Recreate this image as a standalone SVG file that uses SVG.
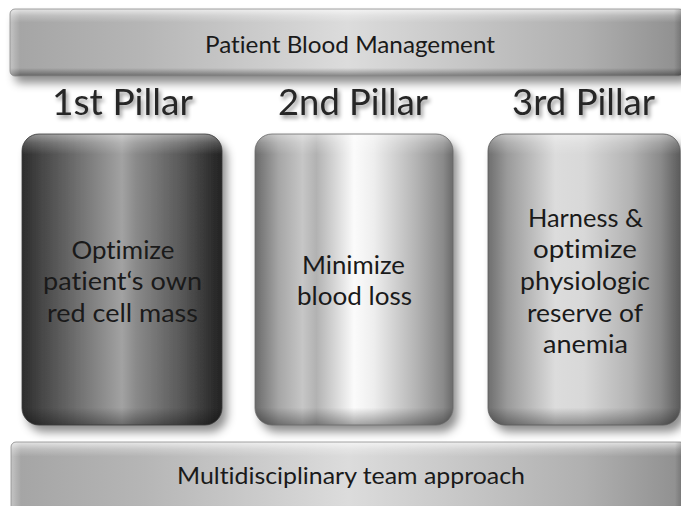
<svg xmlns="http://www.w3.org/2000/svg" width="681" height="506" viewBox="0 0 681 506">
<style>
.t{font-family:Lato,"Open Sans","Liberation Sans",sans-serif;fill:#1a1a1a;text-anchor:middle;font-variant-ligatures:none;font-feature-settings:"liga" 0,"clig" 0}
.head{font-size:36px;fill:#262626}
.bar{font-size:23px}
.body{font-size:25px}
</style>
<defs>
<filter id="sh" x="-20%" y="-20%" width="140%" height="150%">
<feGaussianBlur in="SourceAlpha" stdDeviation="5"/>
<feOffset dx="5" dy="7" result="b"/>
<feFlood flood-color="#000" flood-opacity="0.45"/>
<feComposite in2="b" operator="in"/>
<feMerge><feMergeNode/><feMergeNode in="SourceGraphic"/></feMerge>
</filter>
<filter id="tsh" x="-10%" y="-20%" width="130%" height="160%">
<feGaussianBlur in="SourceAlpha" stdDeviation="2"/>
<feOffset dx="2" dy="3" result="b"/>
<feFlood flood-color="#000" flood-opacity="0.45"/>
<feComposite in2="b" operator="in"/>
<feMerge><feMergeNode/><feMergeNode in="SourceGraphic"/></feMerge>
</filter>
<linearGradient id="gBar" x1="0" x2="1" y1="0" y2="0">
<stop offset="0" stop-color="#a4a4a4"/>
<stop offset="0.2" stop-color="#b6b6b6"/>
<stop offset="0.5" stop-color="#dcdcdc"/>
<stop offset="0.85" stop-color="#b0b0b0"/>
<stop offset="1" stop-color="#8e8e8e"/>
</linearGradient>
<linearGradient id="vBar" x1="0" x2="0" y1="0" y2="1">
<stop offset="0" stop-color="#fff" stop-opacity="0.7"/>
<stop offset="0.1" stop-color="#fff" stop-opacity="0.25"/>
<stop offset="0.2" stop-color="#fff" stop-opacity="0"/>
<stop offset="0.88" stop-color="#000" stop-opacity="0"/>
<stop offset="1" stop-color="#000" stop-opacity="0.4"/>
</linearGradient>
<linearGradient id="hEdge" x1="0" x2="1" y1="0" y2="0">
<stop offset="0" stop-color="#fff" stop-opacity="0.35"/>
<stop offset="0.015" stop-color="#fff" stop-opacity="0"/>
<stop offset="0.985" stop-color="#000" stop-opacity="0"/>
<stop offset="1" stop-color="#000" stop-opacity="0.25"/>
</linearGradient>
<linearGradient id="gP1" x1="0" x2="1" y1="0" y2="0">
<stop offset="0" stop-color="#2c2c2c"/>
<stop offset="0.1" stop-color="#474747"/>
<stop offset="0.5" stop-color="#a2a2a2"/>
<stop offset="0.57" stop-color="#8a8a8a"/>
<stop offset="0.8" stop-color="#585858"/>
<stop offset="0.95" stop-color="#2e2e2e"/>
<stop offset="1" stop-color="#242424"/>
</linearGradient>
<linearGradient id="gP2" x1="0" x2="1" y1="0" y2="0">
<stop offset="0" stop-color="#6a6a6a"/>
<stop offset="0.12" stop-color="#a6a6a6"/>
<stop offset="0.24" stop-color="#c6c6c6"/>
<stop offset="0.31" stop-color="#b2b2b2"/>
<stop offset="0.5" stop-color="#fbfbfb"/>
<stop offset="0.6" stop-color="#eeeeee"/>
<stop offset="0.82" stop-color="#b2b2b2"/>
<stop offset="0.95" stop-color="#8a8a8a"/>
<stop offset="1" stop-color="#6a6a6a"/>
</linearGradient>
<linearGradient id="gP3" x1="0" x2="1" y1="0" y2="0">
<stop offset="0" stop-color="#6e6e6e"/>
<stop offset="0.1" stop-color="#9a9a9a"/>
<stop offset="0.35" stop-color="#dcdcdc"/>
<stop offset="0.5" stop-color="#d8d8d8"/>
<stop offset="0.75" stop-color="#b2b2b2"/>
<stop offset="0.9" stop-color="#8a8a8a"/>
<stop offset="1" stop-color="#5c5c5c"/>
</linearGradient>
<linearGradient id="vP" x1="0" x2="0" y1="0" y2="1">
<stop offset="0" stop-color="#fff" stop-opacity="0.45"/>
<stop offset="0.03" stop-color="#fff" stop-opacity="0.2"/>
<stop offset="0.07" stop-color="#fff" stop-opacity="0"/>
<stop offset="0.94" stop-color="#000" stop-opacity="0"/>
<stop offset="1" stop-color="#000" stop-opacity="0.35"/>
</linearGradient>
</defs>
<rect width="681" height="506" fill="#fff"/>

<g id="top-bar">
<rect x="10" y="9" width="674" height="67" rx="5" fill="url(#gBar)" filter="url(#sh)"/>
<rect x="10" y="9" width="674" height="67" rx="5" fill="url(#vBar)"/>
<rect x="10" y="9" width="674" height="67" rx="5" fill="url(#hEdge)" stroke="#8a8a8a" stroke-width="0.8"/>
<text class="t bar" x="350" y="53" textLength="290" lengthAdjust="spacingAndGlyphs">Patient Blood Management</text>
</g>

<g id="heading-1"><text class="t head" x="122.5" y="115" filter="url(#tsh)" textLength="141" lengthAdjust="spacingAndGlyphs">1st Pillar</text></g>
<g id="heading-2"><text class="t head" x="353" y="115" filter="url(#tsh)" textLength="150" lengthAdjust="spacingAndGlyphs">2nd Pillar</text></g>
<g id="heading-3"><text class="t head" x="583.5" y="115" filter="url(#tsh)" textLength="143" lengthAdjust="spacingAndGlyphs">3rd Pillar</text></g>

<g id="pillar-1">
<rect x="22" y="134" width="200" height="291" rx="17" fill="url(#gP1)" filter="url(#sh)"/>
<rect x="22" y="134" width="200" height="291" rx="17" fill="url(#vP)" stroke="#3a3a3a" stroke-width="0.8"/>
<text class="t body" x="123" y="259" textLength="103" lengthAdjust="spacingAndGlyphs">Optimize</text>
<text class="t body" x="122.5" y="290" textLength="159" lengthAdjust="spacingAndGlyphs">patient‘s own</text>
<text class="t body" x="122.5" y="322" textLength="151" lengthAdjust="spacingAndGlyphs">red cell mass</text>
</g>

<g id="pillar-2">
<rect x="255" y="134" width="198" height="291" rx="17" fill="url(#gP2)" filter="url(#sh)"/>
<rect x="255" y="134" width="198" height="291" rx="17" fill="url(#vP)" stroke="#6a6a6a" stroke-width="0.8"/>
<text class="t body" x="353.5" y="274" textLength="103" lengthAdjust="spacingAndGlyphs">Minimize</text>
<text class="t body" x="354.5" y="305" textLength="115" lengthAdjust="spacingAndGlyphs">blood loss</text>
</g>

<g id="pillar-3">
<rect x="488" y="134" width="192" height="291" rx="17" fill="url(#gP3)" filter="url(#sh)"/>
<rect x="488" y="134" width="192" height="291" rx="17" fill="url(#vP)" stroke="#5a5a5a" stroke-width="0.8"/>
<text class="t body" x="585.5" y="227" textLength="115" lengthAdjust="spacingAndGlyphs">Harness &amp;</text>
<text class="t body" x="585" y="258" textLength="104" lengthAdjust="spacingAndGlyphs">optimize</text>
<text class="t body" x="585" y="290" textLength="130" lengthAdjust="spacingAndGlyphs">physiologic</text>
<text class="t body" x="585" y="322" textLength="116" lengthAdjust="spacingAndGlyphs">reserve of</text>
<text class="t body" x="585.5" y="353" textLength="85" lengthAdjust="spacingAndGlyphs">anemia</text>
</g>

<g id="bottom-bar">
<rect x="11" y="442" width="674" height="72" rx="5" fill="url(#gBar)"/>
<rect x="11" y="442" width="674" height="72" rx="5" fill="url(#vBar)"/>
<rect x="11" y="442" width="674" height="72" rx="5" fill="url(#hEdge)" stroke="#8a8a8a" stroke-width="0.8"/>
<text class="t bar" x="351" y="484" textLength="348" lengthAdjust="spacingAndGlyphs">Multidisciplinary team approach</text>
</g>

<g id="connectors"/>
</svg>
